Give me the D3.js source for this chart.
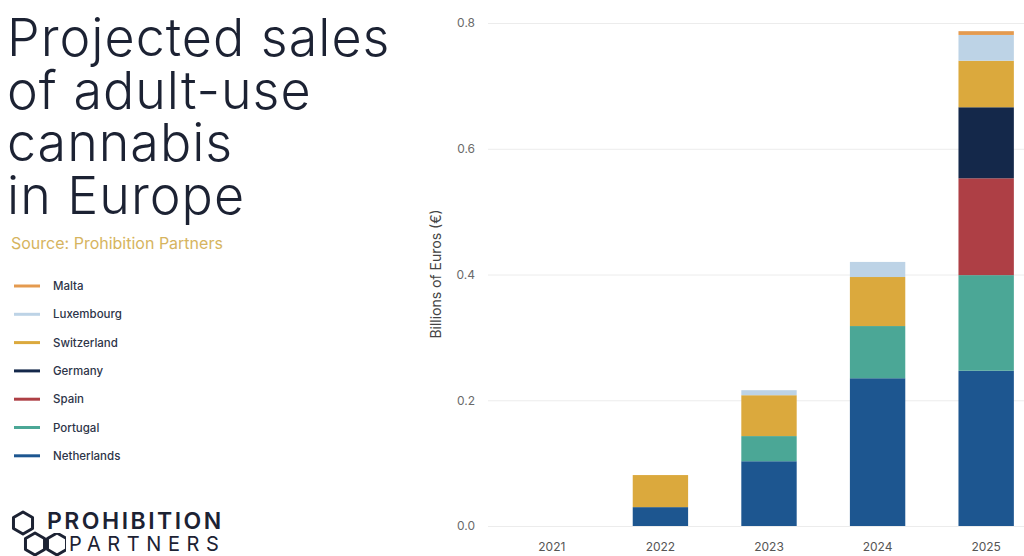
<!DOCTYPE html>
<html>
<head>
<meta charset="utf-8">
<script src="https://cdn.jsdelivr.net/npm/d3@7"></script>
<style>
  body { margin: 0; background: #fff; }
  svg { display: block; }
</style>
</head>
<body>
<div id="wrapper"></div>
<script>
// data (billions of euros)
const years = ['2021', '2022', '2023', '2024', '2025'];
const countries = ['Netherlands', 'Portugal', 'Spain', 'Germany', 'Switzerland', 'Luxembourg', 'Malta'];
const netherlands = [0, 0.030, 0.103, 0.235, 0.247];
const portugal    = [0, 0,     0.040, 0.083, 0.152];
const spain       = [0, 0,     0,     0,     0.154];
const germany     = [0, 0,     0,     0,     0.113];
const switzerland = [0, 0.051, 0.065, 0.078, 0.074];
const luxembourg  = [0, 0,     0.008, 0.024, 0.041];
const malta       = [0, 0,     0,     0,     0.006];
const yTicks = [0, 0.2, 0.4, 0.6, 0.8];
const colors = ['#1d5690', '#4ba796', '#ae3f45', '#14284a', '#dba93d', '#bdd3e6', '#e49a4f'];

const series = [netherlands, portugal, spain, germany, switzerland, luxembourg, malta];
const rows = years.map((y, i) => {
  const r = {year: y};
  countries.forEach((c, j) => r[c] = series[j][i]);
  return r;
});

const width = 1024, height = 556;
const svg = d3.select('#wrapper').append('svg')
  .attr('width', width).attr('height', height);

// title block, one text per line
['Projected sales', 'of adult-use', 'cannabis', 'in Europe'].forEach((t, i) => {
  svg.append('text')
    .attr('x', 7).attr('y', 56 + i * 52.5)
    .attr('font-family', 'Inter, sans-serif')
    .attr('font-weight', 300)
    .attr('font-size', 52)
    .attr('letter-spacing', 1)
    .attr('fill', '#1c2233')
    .text(t);
});

svg.append('text')
  .attr('x', 11).attr('y', 249)
  .attr('font-family', 'Inter, sans-serif')
  .attr('font-size', 16)
  .attr('fill', '#d6b45e')
  .text('Source: Prohibition Partners');

// legend (top to bottom: last series first)
const legend = svg.append('g');
countries.slice().reverse().forEach((c, i) => {
  const yy = 286 + i * 28.3;
  const col = colors[countries.length - 1 - i];
  legend.append('line')
    .attr('x1', 14).attr('x2', 40).attr('y1', yy).attr('y2', yy)
    .attr('stroke', col).attr('stroke-width', 3);
  legend.append('text')
    .attr('x', 53).attr('y', yy + 4)
    .attr('font-family', 'Inter, sans-serif')
    .attr('font-size', 11.5).attr('font-weight', 500)
    .attr('fill', '#2d3448')
    .text(c);
});

// logo
const hex = (cx, cy, r) => d3.range(6).map(k => {
  const a = Math.PI / 3 * k - Math.PI / 2;
  return [cx + r * Math.cos(a), cy + r * Math.sin(a)];
});
const logo = svg.append('g');
[[23, 523], [35, 544], [57, 544]].forEach(([cx, cy]) => {
  logo.append('polygon')
    .attr('points', hex(cx, cy, 11).map(p => p.join(',')).join(' '))
    .attr('fill', 'none').attr('stroke', '#1c2233').attr('stroke-width', 3)
    .attr('stroke-linejoin', 'round');
});
svg.append('rect').attr('x', 44).attr('y', 505).attr('width', 190).attr('height', 28).attr('fill', '#fff');
svg.append('rect').attr('x', 66).attr('y', 532).attr('width', 170).attr('height', 24).attr('fill', '#fff');
svg.append('text')
  .attr('x', 47).attr('y', 529)
  .attr('font-family', 'Inter, sans-serif').attr('font-weight', 600)
  .attr('font-size', 23).attr('letter-spacing', 2.5)
  .attr('fill', '#1c2233').text('PROHIBITION');
svg.append('text')
  .attr('x', 69).attr('y', 551)
  .attr('font-family', 'Inter, sans-serif').attr('font-weight', 400)
  .attr('font-size', 20).attr('letter-spacing', 6.6)
  .attr('fill', '#1c2233').text('PARTNERS');

// chart
const x = d3.scaleBand().domain(years).range([497, 1041]).paddingInner(0.49).paddingOuter(0.25);
const y = d3.scaleLinear().domain([0, 0.8]).range([526, 23]);

const yAxis = svg.append('g')
  .attr('transform', 'translate(488,0)')
  .call(d3.axisLeft(y).tickValues(yTicks).tickFormat(d3.format('.1f')).tickSize(-width).tickPadding(13));
yAxis.select('.domain').remove();
yAxis.selectAll('.tick line').attr('stroke', '#ececec').attr('stroke-width', 1);
yAxis.selectAll('.tick text')
  .attr('font-family', 'Inter, sans-serif').attr('font-size', 12).attr('fill', '#6a6a6a');

const xAxis = svg.append('g')
  .attr('transform', 'translate(0,526)')
  .call(d3.axisBottom(x).tickSize(0).tickPadding(16));
xAxis.select('.domain').remove();
xAxis.selectAll('.tick text')
  .attr('font-family', 'Inter, sans-serif').attr('font-size', 12).attr('fill', '#555');

svg.append('text')
  .attr('transform', 'translate(441,274) rotate(-90)')
  .attr('text-anchor', 'middle')
  .attr('font-family', 'Inter, sans-serif').attr('font-size', 14).attr('fill', '#444')
  .text('Billions of Euros (€)');

const stack = d3.stack().keys(countries)(rows);
svg.append('g').selectAll('g')
  .data(stack)
  .join('g')
  .attr('fill', (d, i) => colors[i])
  .selectAll('rect')
  .data(d => d)
  .join('rect')
  .attr('x', d => x(d.data.year))
  .attr('width', x.bandwidth())
  .attr('y', d => y(d[1]))
  .attr('height', d => y(d[0]) - y(d[1]));
</script>
</body>
</html>
